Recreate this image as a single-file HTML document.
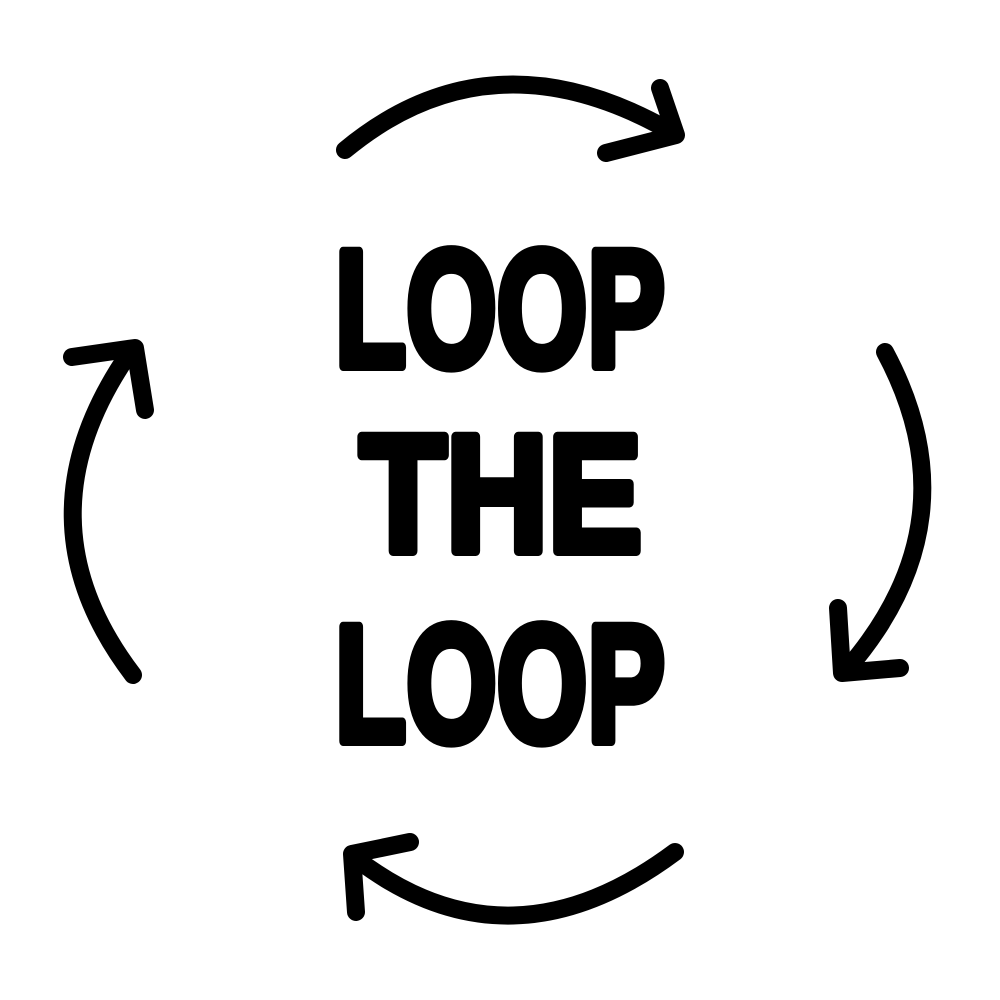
<!DOCTYPE html>
<html><head><meta charset="utf-8"><style>
html,body{margin:0;padding:0;background:#fff;}
svg{display:block}
</style></head><body>
<svg width="1000" height="1000" viewBox="0 0 1000 1000" xmlns="http://www.w3.org/2000/svg">
<rect width="1000" height="1000" fill="#fff"/>
<g fill="none" stroke="#000" stroke-width="18" stroke-linecap="round" stroke-linejoin="round">
  <path d="M345 150 Q490 30 668 130"/>
  <path d="M660 88 L676 135 L606 153"/>
  <path d="M885 352 Q975 520 848 668"/>
  <path d="M838 608 L842 673 L900 668"/>
  <path d="M675 852 Q510 975 358 860"/>
  <path d="M410 842 L352 854 L356 912"/>
  <path d="M133 675 Q15 520 128 355"/>
  <path d="M72 357 L135 348 L145 410"/>
</g>
<g font-family="Liberation Sans, sans-serif" font-weight="bold" font-size="166" fill="#000" stroke="#000" stroke-width="10" stroke-linejoin="round">
  <text x="335" y="366" textLength="330" lengthAdjust="spacingAndGlyphs">LOOP</text>
  <text x="360" y="551" textLength="282" lengthAdjust="spacingAndGlyphs">THE</text>
  <text x="335" y="741" textLength="330" lengthAdjust="spacingAndGlyphs">LOOP</text>
</g>
</svg>
</body></html>
